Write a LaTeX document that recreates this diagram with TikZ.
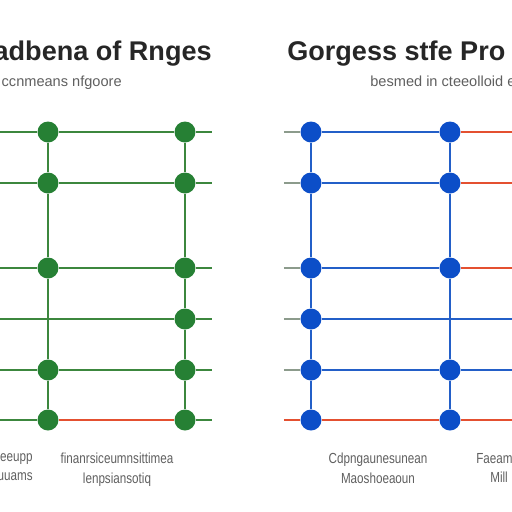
\documentclass[tikz,border=0pt]{standalone}
\usepackage{fontspec}
\setmainfont{Liberation Sans}
\newfontfamily\narrowsans[FakeStretch=0.8]{Liberation Sans}
\usetikzlibrary{positioning}

\definecolor{wiregreen}{RGB}{60,135,62}
\definecolor{dotgreen}{RGB}{38,128,52}
\definecolor{wireblue}{RGB}{35,95,200}
\definecolor{dotblue}{RGB}{12,78,200}
\definecolor{wirered}{RGB}{228,80,48}
\definecolor{stubgray}{RGB}{140,155,140}
\definecolor{textgray}{RGB}{95,95,95}

\tikzset{
	gdot/.style={circle, fill=dotgreen, inner sep=0pt, minimum size=0.42cm},
	bdot/.style={circle, fill=dotblue, inner sep=0pt, minimum size=0.42cm},
	gwire/.style={draw=wiregreen, line width=1.2pt},
	gpost/.style={draw=wiregreen, line width=0.9pt},
	bwire/.style={draw=wireblue, line width=1.2pt},
	bpost/.style={draw=wireblue, line width=0.9pt},
	rwire/.style={draw=wirered, line width=1.4pt},
	stub/.style={draw=stubgray, line width=1.2pt},
	headline/.style={font=\fontsize{15.4}{18}\selectfont\bfseries, text=black!85, inner sep=0pt},
	subline/.style={font=\fontsize{8.3}{10}\selectfont, text=textgray, inner sep=0pt},
	footnote/.style={font=\narrowsans\fontsize{8.3}{11}\selectfont, text=textgray, align=center, inner sep=0pt}
}

\begin{document}
\begin{tikzpicture}[x=0.02cm, y=-0.02cm]
	\useasboundingbox (0,0) rectangle (512,512);

	% titles
	\node[headline, anchor=base east] (ltitle) at (212,60) {adbena of Rnges};
	\node[headline, anchor=base west] (rtitle) at (287,60) {Gorgess stfe Pro};
	\node[subline, anchor=base east] (lsub) at (122,86) {ccnmeans nfgoore};
	\node[subline, anchor=base west] (rsub) at (370,86) {besmed in cteeolloid eluv};

	% left grid
	\foreach \y [count=\i] in {132,183,268,319,370,420} {
		\coordinate (lw\i) at (0,\y);
		\coordinate (le\i) at (212,\y);
	}
	\node[gdot] (L1a) at (48,132) {};
	\node[gdot] (L1b) at (185,132) {};
	\node[gdot] (L2a) at (48,183) {};
	\node[gdot] (L2b) at (185,183) {};
	\node[gdot] (L3a) at (48,268) {};
	\node[gdot] (L3b) at (185,268) {};
	\coordinate (L4a) at (48,319);
	\node[gdot] (L4b) at (185,319) {};
	\node[gdot] (L5a) at (48,370) {};
	\node[gdot] (L5b) at (185,370) {};
	\node[gdot] (L6a) at (48,420) {};
	\node[gdot] (L6b) at (185,420) {};

	\foreach \i in {1,2,3,5} {
		\draw[gwire] (lw\i) -- (L\i a) -- (L\i b) -- (le\i);
	}
	\draw[gwire] (lw4) -- (L4a) -- (L4b) -- (le4);
	\draw[gwire] (lw6) -- (L6a);
	\draw[gwire] (L6b) -- (le6);
	\draw[rwire] (L6a) -- (L6b);
	\draw[gpost] (L1a) -- (L2a) -- (L3a) -- (L5a) -- (L6a);
	\draw[gpost] (L1b) -- (L2b) -- (L3b) -- (L4b) -- (L5b) -- (L6b);

	% right grid
	\foreach \y [count=\i] in {132,183,268,319,370,420} {
		\coordinate (rw\i) at (284,\y);
		\coordinate (re\i) at (512,\y);
	}
	\node[bdot] (R1a) at (311,132) {};
	\node[bdot] (R1b) at (450,132) {};
	\node[bdot] (R2a) at (311,183) {};
	\node[bdot] (R2b) at (450,183) {};
	\node[bdot] (R3a) at (311,268) {};
	\node[bdot] (R3b) at (450,268) {};
	\node[bdot] (R4a) at (311,319) {};
	\coordinate (R4b) at (450,319);
	\node[bdot] (R5a) at (311,370) {};
	\node[bdot] (R5b) at (450,370) {};
	\node[bdot] (R6a) at (311,420) {};
	\node[bdot] (R6b) at (450,420) {};

	\foreach \i in {1,2,3} {
		\draw[stub] (rw\i) -- (R\i a);
		\draw[bwire] (R\i a) -- (R\i b);
		\draw[rwire] (R\i b) -- (re\i);
	}
	\draw[stub] (rw4) -- (R4a);
	\draw[bwire] (R4a) -- (re4);
	\draw[stub] (rw5) -- (R5a);
	\draw[bwire] (R5a) -- (R5b) -- (re5);
	\draw[rwire] (rw6) -- (R6a) -- (R6b) -- (re6);
	\draw[bpost] (R1a) -- (R2a) -- (R3a) -- (R4a) -- (R5a) -- (R6a);
	\draw[bpost] (R1b) -- (R2b) -- (R3b) -- (R5b) -- (R6b);

	% captions
	\node[footnote, align=right, anchor=north east] (cap1) at (33,453) {eeupp\\uuams};
	\node[footnote, anchor=north] (cap2) at (117,453) {finanrsiceumnsittimea\\lenpsiansotiq};
	\node[footnote, anchor=north] (cap3) at (378,453) {Cdpngaunesunean\\Maoshoeaoun};
	\node[footnote, align=left, anchor=north west] (cap4) at (476,453) {Faeam\\\hspace{0.28cm}Mill};
\end{tikzpicture}
\end{document}
